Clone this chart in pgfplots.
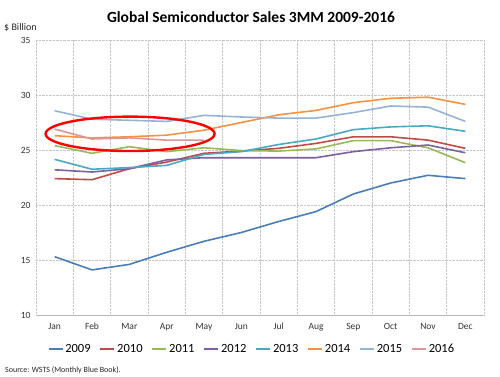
\documentclass[border=0pt]{standalone}
\usepackage{fontspec}
\setmainfont{Carlito}
\usepackage{pgfplots}
\pgfplotsset{compat=1.18}
\definecolor{c09}{HTML}{4A7EBB}
\definecolor{c10}{HTML}{BE4B48}
\definecolor{c11}{HTML}{98B954}
\definecolor{c12}{HTML}{7D60A0}
\definecolor{c13}{HTML}{46AAC5}
\definecolor{c14}{HTML}{F69240}
\definecolor{c15}{HTML}{95B3D7}
\definecolor{c16}{HTML}{D99795}
\begin{document}
\begin{tikzpicture}
\path[use as bounding box] (0,0) rectangle (500bp,377bp);
\begin{axis}[
  at={(36bp,62bp)}, anchor=south west,
  scale only axis, width=448bp, height=275bp,
  xmin=-0.5, xmax=11.5, ymin=10, ymax=35,
  xtick={0,...,11},
  xticklabels={Jan,Feb,Mar,Apr,May,Jun,Jul,Aug,Sep,Oct,Nov,Dec},
  minor xtick={-0.5,0.5,...,11.5},
  ytick={10,15,...,35},
  major tick length=0pt, minor tick length=0pt,
  xminorgrids, ymajorgrids,
  grid style={gray!45, densely dotted},
  minor grid style={gray!45, densely dotted},
  axis line style={draw=none},
  tick label style={font=\fontsize{9.5bp}{11bp}\selectfont, text=black!80},
  xticklabel style={anchor=center, text height=6.5bp, text depth=2bp, yshift=-12bp},
  yticklabel style={xshift=-2bp},
  /pgf/number format/assume math mode=true,
  legend columns=8,
  legend style={draw=none, at={(0.482,-0.124)}, anchor=center,
    font=\fontsize{12.5bp}{14bp}\selectfont, column sep=0bp,
    /tikz/every even column/.append style={column sep=7bp}},
  legend cell align=left,
  legend image code/.code={\draw[#1, line width=1.6bp] (0bp,0bp) -- (14bp,0bp);},
  every axis plot/.append style={line width=1.6bp, mark=none},
  clip=false,
]
\addplot[c09] coordinates {(0,15.3)(1,14.1)(2,14.6)(3,15.7)(4,16.7)(5,17.5)(6,18.5)(7,19.4)(8,21.0)(9,22.0)(10,22.7)(11,22.4)};
\addplot[c10] coordinates {(0,22.4)(1,22.3)(2,23.3)(3,23.9)(4,24.7)(5,24.9)(6,25.15)(7,25.6)(8,26.2)(9,26.2)(10,25.9)(11,25.15)};
\addplot[c11] coordinates {(0,25.4)(1,24.7)(2,25.3)(3,24.85)(4,25.2)(5,24.95)(6,24.9)(7,25.1)(8,25.85)(9,25.85)(10,25.2)(11,23.85)};
\addplot[c12] coordinates {(0,23.2)(1,23.0)(2,23.3)(3,24.1)(4,24.3)(5,24.3)(6,24.3)(7,24.3)(8,24.85)(9,25.2)(10,25.45)(11,24.75)};
\addplot[c13] coordinates {(0,24.15)(1,23.25)(2,23.4)(3,23.6)(4,24.6)(5,24.85)(6,25.5)(7,26.0)(8,26.85)(9,27.1)(10,27.2)(11,26.7)};
\addplot[c14] coordinates {(0,26.3)(1,26.1)(2,26.2)(3,26.35)(4,26.8)(5,27.5)(6,28.2)(7,28.6)(8,29.3)(9,29.7)(10,29.8)(11,29.15)};
\addplot[c15] coordinates {(0,28.57)(1,27.8)(2,27.7)(3,27.6)(4,28.15)(5,28.0)(6,27.9)(7,27.9)(8,28.4)(9,29.0)(10,28.9)(11,27.6)};
\addplot[c16] coordinates {(0,26.9)(1,26.0)(2,26.1)(3,25.9)(4,25.9)};
\legend{2009,2010,2011,2012,2013,2014,2015,2016}
\draw[gray!55, line width=0.8bp] (rel axis cs:0,0) -- (rel axis cs:1,0);
\draw[gray!45, densely dotted] (rel axis cs:0,1) -- (rel axis cs:1,1);
\draw[red, line width=2.4bp] (axis cs:2.02,26.47) ellipse [x radius=84.5bp, y radius=17.2bp];
\end{axis}
\node[font=\bfseries\fontsize{15.5bp}{18bp}\selectfont] at (251bp,360bp) {Global Semiconductor Sales 3MM 2009-2016};
\node[anchor=west, font=\fontsize{10bp}{12bp}\selectfont, inner sep=0pt, text=black!85] at (4bp,349bp) {\$ Billion};
\node[anchor=west, font=\fontsize{8bp}{10bp}\selectfont, inner sep=0pt, text=black!85] at (5bp,7bp) {Source: WSTS (Monthly Blue Book).};
\end{tikzpicture}
\end{document}
